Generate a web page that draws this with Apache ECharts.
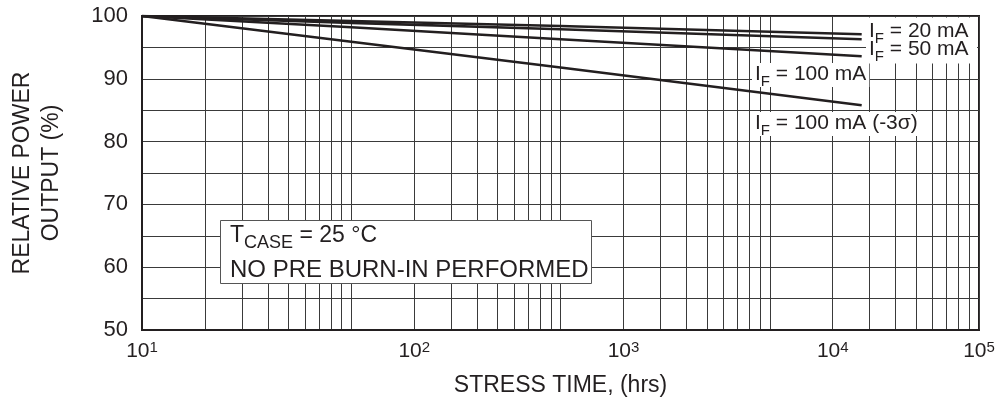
<!DOCTYPE html>
<html><head><meta charset="utf-8">
<script src="https://cdn.jsdelivr.net/npm/echarts@6/dist/echarts.min.js"></script>
<style>html,body{margin:0;padding:0;background:#fff}#c{width:1008px;height:406px}</style>
</head><body><div id="c"></div>
<script>
// ---- data ----
const stressHours = [10, 100, 1000, 27500];
const if20mA   = [100, 99.2, 98.4, 97.1];
const if50mA   = [100, 98.9, 97.9, 96.3];
const if100mA  = [100, 98.2, 96.3, 93.6];
const if100mA3s = [100, 95.9, 91.8, 85.8];
const xLabelValues = [10, 200, 2000, 20000, 100000];
const xLabelExponents = ['1', '2', '3', '4', '5'];
const xGridValues = [10, 20, 30, 40, 50, 60, 70, 80, 90,
  100, 200, 300, 400, 500, 600, 700, 800, 900,
  1000, 2000, 3000, 4000, 5000, 6000, 7000, 8000, 9000,
  10000, 20000, 30000, 40000, 50000, 60000, 70000, 80000, 90000, 100000];
const yLabelValues = [50, 60, 70, 80, 90, 100];

const INK = '#231f20';
const FONT = '"Liberation Sans", Arial, sans-serif';

function mkSeries(vals) {
  return {
    type: 'line', silent: true, symbol: 'none', animation: false,
    data: stressHours.map((h, i) => [h, vals[i]]),
    lineStyle: { color: INK, width: 2.6 }
  };
}
const subRich = {
  m: { fontSize: 21, lineHeight: 22, verticalAlign: 'top', fontFamily: FONT, fill: INK, color: INK },
  s: { fontSize: 15, lineHeight: 15, verticalAlign: 'top', padding: [10, 0, 0, 0], fontFamily: FONT, fill: INK, color: INK }
};
function annText(x, y, txt, bg) {
  const st = { text: txt, rich: subRich, fill: INK, font: '21px ' + FONT, align: 'left', verticalAlign: 'top' };
  if (bg) { st.backgroundColor = '#fff'; st.padding = [1, 3, 1, 3]; }
  return { type: 'text', z: 101, x: x, y: y, silent: true, style: st };
}

const chart = echarts.init(document.getElementById('c'), null, { renderer: 'canvas' });
chart.setOption({
  animation: false,
  backgroundColor: '#fff',
  grid: { left: 142, right: 29, top: 16, bottom: 76, containLabel: false, outerBoundsMode: 'none',
          show: true, borderColor: INK, borderWidth: 2, backgroundColor: 'transparent' },
  xAxis: {
    type: 'log', logBase: 10, min: 10, max: 100000,
    axisLine: { show: true, lineStyle: { color: INK, width: 2 } },
    axisTick: { show: false, customValues: xGridValues },
    splitLine: { show: true, lineStyle: { color: '#3a3a3a', width: 1 } },
    minorSplitLine: { show: false },
    axisLabel: {
      customValues: xLabelValues, margin: 10, color: INK, hideOverlap: false,
      formatter: function (v) {
        let best = 0, bd = Infinity;
        xLabelValues.forEach((lv, i) => { const d = Math.abs(Math.log10(lv) - Math.log10(v)); if (d < bd) { bd = d; best = i; } });
        return '{b|10}{s|' + xLabelExponents[best] + '}';
      },
      rich: {
        b: { fontSize: 21, lineHeight: 24, verticalAlign: 'top', padding: [1, 0, 0, 0], fontFamily: FONT, color: INK },
        s: { fontSize: 15, lineHeight: 15, verticalAlign: 'top', fontFamily: FONT, color: INK }
      }
    },
    name: 'STRESS TIME, (hrs)', nameLocation: 'middle', nameGap: 44,
    nameTextStyle: { fontSize: 23, fontFamily: FONT, color: INK }
  },
  yAxis: {
    type: 'value', min: 50, max: 100, interval: 5,
    axisLine: { show: true, lineStyle: { color: INK, width: 2 } },
    axisTick: { show: false },
    splitLine: { show: true, lineStyle: { color: '#3a3a3a', width: 1 } },
    axisLabel: {
      margin: 14, fontSize: 22, fontFamily: FONT, color: INK,
      formatter: v => (yLabelValues.indexOf(v) >= 0 ? String(v) : '')
    },
    name: 'RELATIVE POWER\nOUTPUT (%)', nameLocation: 'middle', nameRotate: 90, nameGap: 76,
    nameTextStyle: { fontSize: 23, lineHeight: 29, fontFamily: FONT, color: INK, align: 'center' }
  },
  series: [mkSeries(if20mA), mkSeries(if50mA), mkSeries(if100mA), mkSeries(if100mA3s)],
  graphic: [
    { type: 'rect', z: 100, silent: true, shape: { x: 866, y: 17.5, width: 111, height: 46 }, style: { fill: '#fff' } },
    annText(869, 21, '{m|I}{s|F}{m| = 20 mA}', false),
    annText(869, 39, '{m|I}{s|F}{m| = 50 mA}', false),
    annText(752, 63, '{m|I}{s|F}{m| = 100 mA}', true),
    annText(752, 112, '{m|I}{s|F}{m| = 100 mA (-3σ)}', true),
    { type: 'rect', z: 100, silent: true, shape: { x: 220.5, y: 220.5, width: 371, height: 63 }, style: { fill: '#fff', stroke: '#555', lineWidth: 1 } },
    { type: 'text', z: 101, x: 230, y: 224, silent: true, style: {
        text: '{m|T}{s|CASE}{m| = 25 °C}', align: 'left', verticalAlign: 'top',
        rich: {
          m: { fontSize: 23, lineHeight: 23, verticalAlign: 'top', fontFamily: FONT, fill: INK, color: INK },
          s: { fontSize: 18, lineHeight: 18, verticalAlign: 'top', padding: [10, 0, 0, 0], fontFamily: FONT, fill: INK, color: INK }
        } } },
    { type: 'text', z: 101, x: 230, y: 258, silent: true, style: {
        text: 'NO PRE BURN-IN PERFORMED', align: 'left', verticalAlign: 'top',
        font: '24px ' + FONT, fill: INK } }
  ]
});
</script>
</body></html>
